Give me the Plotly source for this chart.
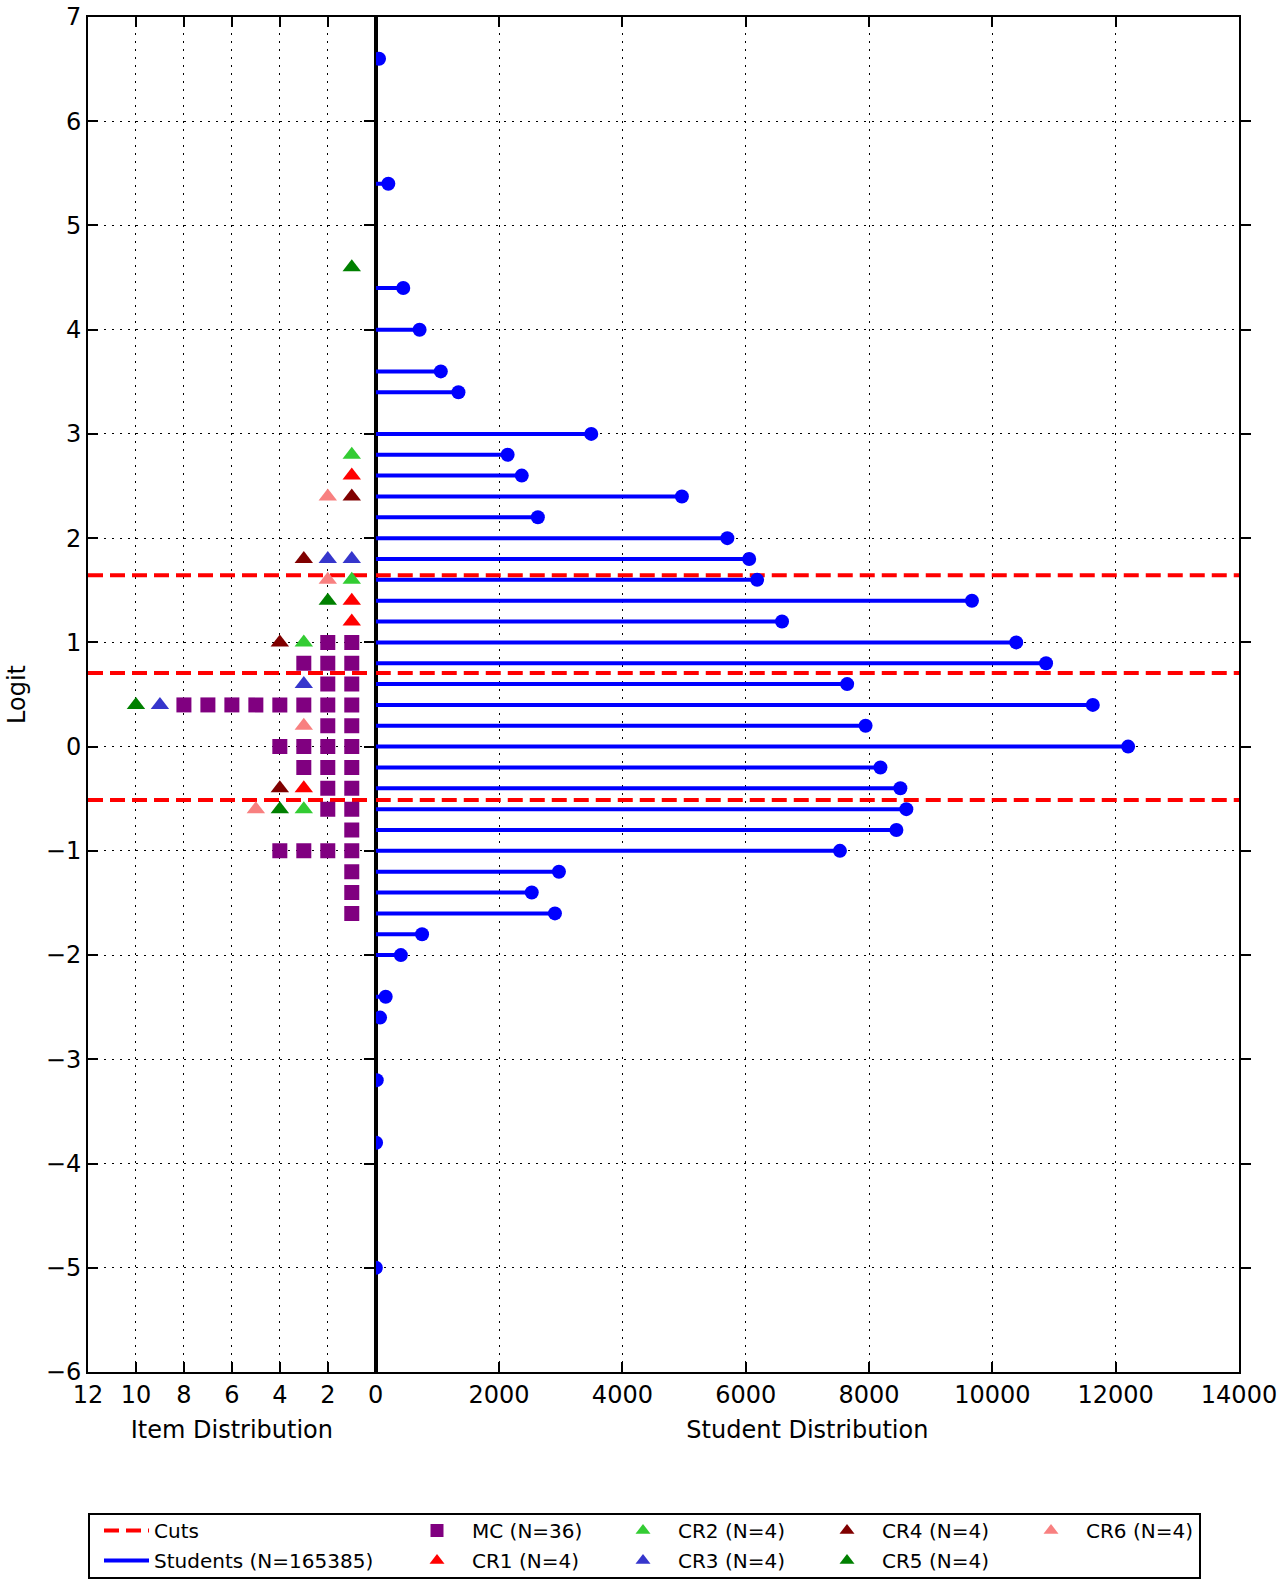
import plotly.graph_objects as go

# ---------------- data ----------------
student_logits = [6.6, 5.4, 4.4, 4.0, 3.6, 3.4, 3.0, 2.8, 2.6, 2.4, 2.2, 2.0, 1.8, 1.6, 1.4, 1.2,
                  1.0, 0.8, 0.6, 0.4, 0.2, 0.0, -0.2, -0.4, -0.6, -0.8, -1.0, -1.2, -1.4, -1.6,
                  -1.8, -2.0, -2.4, -2.6, -3.2, -3.8, -5.0]
student_counts = [53, 204, 446, 711, 1055, 1341, 3495, 2139, 2368, 4965, 2629, 5702, 6056, 6185,
                  9669, 6589, 10387, 10871, 7645, 11629, 7944, 12202, 8185, 8508, 8605, 8444,
                  7528, 2971, 2530, 2906, 751, 407, 161, 70, 16, 5, 1]

cut_logits = [1.645, 0.706, -0.512]

item_types = ["MC", "CR1", "CR2", "CR3", "CR4", "CR5", "CR6"]
item_logits = {
    "MC": [1.0, 1.0, 0.8, 0.8, 0.8, 0.6, 0.6, 0.4, 0.4, 0.4, 0.4, 0.4, 0.4, 0.4, 0.4,
           0.2, 0.2, 0.0, 0.0, 0.0, 0.0, -0.2, -0.2, -0.2, -0.4, -0.4, -0.6, -0.6,
           -0.8, -1.0, -1.0, -1.0, -1.0, -1.2, -1.4, -1.6],
    "CR1": [2.6, 1.4, 1.2, -0.4],
    "CR2": [2.8, 1.6, 1.0, -0.6],
    "CR3": [1.8, 1.8, 0.6, 0.4],
    "CR4": [2.4, 1.8, 1.0, -0.4],
    "CR5": [4.6, 1.4, 0.4, -0.6],
    "CR6": [2.4, 1.6, 0.2, -0.6],
}
item_colors = {"MC": "#800080", "CR1": "#ff0000", "CR2": "#33cc33", "CR3": "#3636cc",
               "CR4": "#800000", "CR5": "#008000", "CR6": "#f88080"}

item_ticks = [12, 10, 8, 6, 4, 2, 0]
student_ticks = [2000, 4000, 6000, 8000, 10000, 12000, 14000]
logit_ticks = list(range(-6, 8))
ITEM_MAX, STUDENT_MAX = 12, 14000
N_students = 165385

# ---------------- figure ----------------
W, H = 1281, 1579
L, R, T, B = 88, 42, 17, 207
PW, PH = W - L - R, H - T - B
FONT = "DejaVu Sans"


def px_x(p):   # page pixel -> paper x
    return (p - L) / PW


def px_y(p):   # page pixel -> paper y
    return (H - B - p) / PH


fig = go.Figure()

# student stems
lx, ly = [], []
for l, c in zip(student_logits, student_counts):
    lx += [0, c, None]
    ly += [l, l, None]
fig.add_trace(go.Scatter(x=lx, y=ly, mode="lines", line=dict(color="#0000ff", width=4),
                         xaxis="x2", yaxis="y", showlegend=False, hoverinfo="skip"))

# cuts on both panels
cxl, cxr, cy = [], [], []
for c in cut_logits:
    cxl += [ITEM_MAX, 0, None]
    cxr += [0, STUDENT_MAX, None]
    cy += [c, c, None]
cut_line = dict(color="#ff0000", width=4, dash="15px,7px")
fig.add_trace(go.Scatter(x=cxl, y=cy, mode="lines", line=cut_line, xaxis="x", yaxis="y",
                         showlegend=False))
fig.add_trace(go.Scatter(x=cxr, y=cy, mode="lines", line=cut_line, xaxis="x2", yaxis="y",
                         showlegend=False))

# student points
fig.add_trace(go.Scatter(x=student_counts, y=student_logits, mode="markers",
                         marker=dict(color="#0000ff", size=14), xaxis="x2", yaxis="y",
                         showlegend=False))

# item points: stacked count per logit, in type order
stack = {}
for t in item_types:
    xs, ys = [], []
    for l in item_logits[t]:
        k = round(l * 10)
        stack[k] = stack.get(k, 0) + 1
        xs.append(stack[k])
        ys.append(l)
    fig.add_trace(go.Scatter(x=xs, y=ys, mode="markers", xaxis="x", yaxis="y",
                             marker=dict(color=item_colors[t], size=15 if t == "MC" else 16,
                                         symbol="square" if t == "MC" else "triangle-up"),
                             showlegend=False))

# legend proxies
legend_font = dict(family=FONT, size=20, color="black")
fig.add_trace(go.Scatter(x=[None], y=[None], mode="lines", line=cut_line, name="Cuts",
                         legend="legend", legendrank=1, legendgroup="g0"))
fig.add_trace(go.Scatter(x=[None], y=[None], mode="lines", line=dict(color="#0000ff", width=4),
                         name=f"Students (N={N_students})", legend="legend", legendrank=2,
                         legendgroup="g1"))
leg_map = {"MC": "legend2", "CR1": "legend2", "CR2": "legend3", "CR3": "legend3",
           "CR4": "legend4", "CR5": "legend4", "CR6": "legend5"}
for i, t in enumerate(item_types):
    fig.add_trace(go.Scatter(x=[None], y=[None], mode="markers",
                             marker=dict(color=item_colors[t], size=13,
                                         symbol="square" if t == "MC" else "triangle-up"),
                             name=f"{t} (N={len(item_logits[t])})", legend=leg_map[t],
                             legendrank=i + 1, legendgroup=f"i{i}"))

axis_common = dict(showline=True, linecolor="black", linewidth=2, ticks="inside", ticklen=10,
                   tickwidth=1.5, tickcolor="black", showgrid=True, gridcolor="black",
                   gridwidth=1, griddash="2px,6px", zeroline=False, automargin=False,
                   ticklabeloverflow="allow",
                   tickfont=dict(family=FONT, size=24, color="black"))
title_font = dict(family=FONT, size=24, color="black")

fig.update_layout(
    width=W, height=H,
    margin=dict(l=L, r=R, t=T, b=B, autoexpand=False),
    paper_bgcolor="white", plot_bgcolor="white",
    font=dict(family=FONT, color="black"),
    xaxis=dict(domain=[0, 0.25], range=[ITEM_MAX, 0], tickvals=item_ticks,
               ticktext=[str(v) for v in item_ticks], anchor="y", mirror="ticks",
               title=dict(text="Item Distribution", font=title_font, standoff=13),
               **axis_common),
    xaxis2=dict(domain=[0.25, 1], range=[0, STUDENT_MAX], tickvals=student_ticks,
                ticktext=[str(v) for v in student_ticks], anchor="y", mirror="ticks",
                title=dict(text="Student Distribution", font=title_font, standoff=13),
                **axis_common),
    yaxis=dict(range=[-6, 7], tickvals=logit_ticks, anchor="x", mirror="allticks",
               title=dict(text="Logit", font=title_font, standoff=13), **axis_common),
)

leg_common = dict(orientation="v", xref="paper", yref="container", xanchor="left",
                  yanchor="top", font=legend_font, bgcolor="rgba(0,0,0,0)", borderwidth=0,
                  tracegroupgap=1, y=1 - 1511 / H)
fig.update_layout(
    legend=dict(x=px_x(99), itemwidth=45, **leg_common),
    legend2=dict(x=px_x(402), itemwidth=60, **leg_common),
    legend3=dict(x=px_x(608), itemwidth=60, **leg_common),
    legend4=dict(x=px_x(812), itemwidth=60, **leg_common),
    legend5=dict(x=px_x(1016), itemwidth=60, **leg_common),
)

# legend frame
fig.add_shape(type="rect", xref="paper", yref="paper",
              x0=px_x(89), x1=px_x(1200), y0=px_y(1578), y1=px_y(1514),
              line=dict(color="black", width=2), fillcolor="rgba(0,0,0,0)", layer="above")

fig.write_html("out.html", config={"displayModeBar": False},
               post_script="document.body.style.margin='0px';document.body.style.overflow='hidden';")
